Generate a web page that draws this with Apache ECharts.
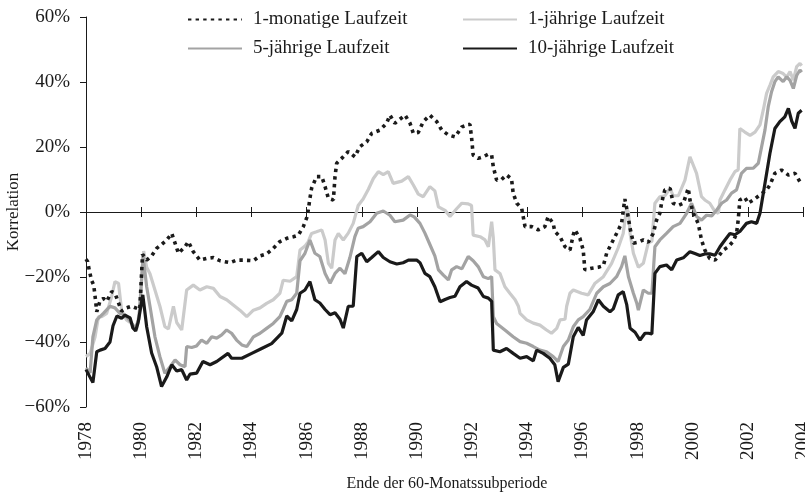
<!DOCTYPE html>
<html>
<head>
<meta charset="utf-8">
<script src="https://cdn.jsdelivr.net/npm/echarts@6/dist/echarts.min.js"></script>
<style>
  html, body { margin: 0; padding: 0; background: #ffffff; }
  #chart { width: 805px; height: 495px; }
</style>
</head>
<body>
<div id="chart"></div>
<script>
// Achse
var yearMin = 1978
var yearMax = 2004
var yearStep = 2
var yTicks = [-60, -40, -20, 0, 20, 40, 60]

// Korrelation in %, [Ende der Subperiode, Wert]
var monat1 = [
  [1978.00, -14.5], [1978.06, -15.3], [1978.12, -18], [1978.20, -21], [1978.28, -22.5], [1978.33, -26],
  [1978.39, -30.7], [1978.51, -27.3], [1978.63, -26.6], [1978.75, -27.5], [1978.93, -24.5], [1979.05, -25],
  [1979.29, -30.5], [1979.47, -29.5], [1979.65, -29], [1979.80, -29.5], [1979.95, -30], [1980.05, -13],
  [1980.20, -14.8], [1980.38, -13.5], [1980.56, -11.2], [1980.74, -10], [1980.93, -8.6], [1981.11, -6.6],
  [1981.23, -9.6], [1981.35, -12.7], [1981.59, -10.7], [1981.71, -9.1], [1981.89, -12.2], [1982.13, -14.8],
  [1982.38, -14.3], [1982.62, -14], [1982.86, -15], [1983.22, -15.6], [1983.46, -14.8], [1983.70, -14.8],
  [1984.07, -15], [1984.31, -13.5], [1984.55, -12.9], [1984.79, -11.2], [1985.03, -9.1], [1985.28, -8.1],
  [1985.52, -7.6], [1985.70, -7.1], [1985.88, -4.5], [1986.00, -1.9], [1986.06, 0.6], [1986.12, 4.2],
  [1986.18, 7.3], [1986.36, 10.9], [1986.55, 10.9], [1986.67, 7.8], [1986.79, 4.2], [1986.97, 3.7],
  [1987.03, 10.9], [1987.09, 15], [1987.27, 16.5], [1987.51, 18.6], [1987.75, 17], [1987.93, 20.1],
  [1988.18, 21.6], [1988.36, 24.2], [1988.66, 25.2], [1988.90, 27.3], [1989.02, 29.8], [1989.20, 27.3],
  [1989.57, 29.8], [1989.75, 27.3], [1989.87, 24.2], [1990.05, 24.5], [1990.23, 27.8], [1990.47, 29.8],
  [1990.72, 27.8], [1990.90, 25.2], [1991.14, 23.7], [1991.38, 23.1], [1991.63, 26.2], [1991.92, 27],
  [1991.98, 23.1], [1992.04, 17.5], [1992.22, 16.5], [1992.41, 17], [1992.59, 17.8], [1992.71, 17.5],
  [1992.77, 13.9], [1992.89, 9.8], [1993.07, 10], [1993.25, 11.4], [1993.43, 10.2], [1993.49, 5.8],
  [1993.62, 2.7], [1993.80, 1.1], [1993.92, -4.5], [1994.16, -4.5], [1994.40, -5.5], [1994.64, -4.5],
  [1994.76, -1.4], [1994.94, -3.5], [1995.00, -6], [1995.19, -7.6], [1995.37, -10.7], [1995.55, -11.7],
  [1995.67, -7], [1995.73, -5.5], [1995.91, -8.1], [1996.03, -11.7], [1996.09, -17.8], [1996.34, -17.3],
  [1996.58, -17], [1996.76, -16.5], [1996.88, -12.7], [1997.06, -9.6], [1997.24, -6.6], [1997.42, -3.5],
  [1997.54, 4], [1997.61, 1], [1997.73, -5], [1997.85, -9.6], [1998.03, -9.3], [1998.21, -8.6],
  [1998.39, -9.3], [1998.57, -6.6], [1998.69, -2.5], [1998.81, -0.4], [1998.87, 2.7], [1998.99, 6.8],
  [1999.18, 7.3], [1999.29, 2.7], [1999.48, 2], [1999.66, 2.7], [1999.84, 7.3], [1999.90, 3.7],
  [2000.02, -0.4], [2000.20, -3.5], [2000.32, -8.6], [2000.44, -11.7], [2000.62, -14.3], [2000.81, -14.8],
  [2000.93, -13.7], [2001.11, -11.7], [2001.29, -10.7], [2001.47, -9], [2001.59, -6.6], [2001.65, -2.5],
  [2001.71, 3.7], [2001.89, 4.5], [2002.01, 2.7], [2002.20, 3.7], [2002.40, 5], [2002.68, 6.8],
  [2002.80, 8.3], [2002.98, 11.9], [2003.22, 12.9], [2003.47, 11.4], [2003.71, 11.9], [2003.89, 9.3],
  [2003.95, 9]
]

var jahr1 = [
  [1978.00, -44.5], [1978.15, -43.5], [1978.33, -38.4], [1978.45, -32.2], [1978.57, -32.2], [1978.75, -31.2],
  [1978.93, -26], [1979.05, -21.4], [1979.18, -22], [1979.29, -30.2], [1979.47, -33.2], [1979.65, -34.3],
  [1979.83, -36.3], [1979.95, -30], [1980.09, -12], [1980.20, -17], [1980.32, -19], [1980.50, -24],
  [1980.68, -29], [1980.86, -35.3], [1980.99, -36], [1981.17, -29], [1981.29, -34], [1981.47, -36.3],
  [1981.65, -24], [1981.89, -22.5], [1982.13, -24], [1982.38, -23], [1982.62, -23.5], [1982.86, -26],
  [1983.10, -27], [1983.34, -28.6], [1983.58, -30.2], [1983.83, -32.2], [1984.07, -30.2], [1984.31, -29.5],
  [1984.55, -28.1], [1984.79, -27], [1985.03, -25], [1985.15, -21], [1985.40, -21.3], [1985.64, -19.9],
  [1985.76, -11.7], [1985.94, -10.5], [1986.06, -9.1], [1986.18, -6.6], [1986.36, -6.1], [1986.55, -5.5],
  [1986.67, -8.6], [1986.79, -15.8], [1986.91, -17.3], [1987.03, -8.6], [1987.15, -6.6], [1987.33, -8.6],
  [1987.51, -6.5], [1987.69, -3.5], [1987.87, 2], [1988.05, 4], [1988.24, 7], [1988.42, 10.3],
  [1988.60, 12.4], [1988.78, 11.5], [1988.96, 12.4], [1989.14, 8.8], [1989.45, 9.5], [1989.69, 10.9],
  [1989.87, 8.3], [1990.05, 5.5], [1990.23, 4.7], [1990.47, 7.8], [1990.65, 6.5], [1990.78, 1.6],
  [1991.02, 0.5], [1991.20, -1.4], [1991.44, 1], [1991.63, 2.7], [1991.86, 2.5], [1991.98, 2],
  [1992.04, -7.1], [1992.29, -7.6], [1992.47, -8.6], [1992.59, -10.7], [1992.71, -3], [1992.77, -8],
  [1992.83, -17.8], [1993.01, -18.9], [1993.19, -23], [1993.37, -25], [1993.56, -27], [1993.68, -29],
  [1993.74, -31.2], [1993.98, -33.2], [1994.22, -34.2], [1994.46, -34.8], [1994.70, -36.3], [1994.88, -37.3],
  [1995.07, -35.8], [1995.19, -33.2], [1995.37, -33], [1995.43, -29], [1995.55, -25], [1995.67, -24],
  [1995.97, -25], [1996.21, -25.5], [1996.46, -21.9], [1996.76, -19.9], [1997.06, -15.8], [1997.30, -11],
  [1997.48, -6.6], [1997.60, 1], [1997.67, 0], [1997.73, -6.6], [1997.85, -12.7], [1998.03, -17],
  [1998.21, -15.8], [1998.39, -9.5], [1998.52, -9], [1998.63, 2.7], [1998.81, 4.7], [1998.99, 5],
  [1999.18, 7.3], [1999.29, 5], [1999.48, 5], [1999.72, 9.8], [1999.90, 17], [1999.96, 16.5],
  [2000.14, 11.9], [2000.32, 4.7], [2000.44, 3.7], [2000.62, 2.7], [2000.81, 0.1], [2000.93, -0.4],
  [2000.99, 3.7], [2001.17, 6.8], [2001.35, 9.8], [2001.53, 12.4], [2001.65, 13], [2001.71, 25.7],
  [2001.89, 24.6], [2002.08, 23.6], [2002.26, 24.6], [2002.44, 26.8], [2002.56, 31.4], [2002.68, 36.5],
  [2002.80, 39], [2002.92, 41.6], [2003.10, 43.2], [2003.28, 42.6], [2003.41, 41.5], [2003.53, 43.2],
  [2003.65, 40.6], [2003.77, 44.7], [2003.89, 45.7], [2003.95, 45]
]

var jahr5 = [
  [1978.00, -48], [1978.15, -49.5], [1978.25, -38.4], [1978.39, -33.2], [1978.63, -31.2], [1978.87, -29],
  [1979.05, -29.5], [1979.23, -31.2], [1979.41, -31.6], [1979.60, -33.5], [1979.78, -35.8], [1979.92, -33],
  [1980.07, -13.5], [1980.20, -23], [1980.32, -29], [1980.50, -38.4], [1980.68, -44.5], [1980.86, -49.6],
  [1981.05, -47.6], [1981.23, -45.5], [1981.41, -47], [1981.59, -47.6], [1981.65, -41.4], [1981.83, -41.7],
  [1982.01, -41.2], [1982.19, -39.4], [1982.38, -40.4], [1982.56, -38.4], [1982.74, -38.8], [1982.92, -37.8],
  [1983.10, -36.3], [1983.28, -37.3], [1983.46, -39.4], [1983.65, -40.9], [1983.83, -41.4], [1984.07, -38.4],
  [1984.31, -37.3], [1984.55, -35.8], [1984.79, -34.3], [1985.03, -32.2], [1985.15, -30], [1985.28, -27.5],
  [1985.46, -27], [1985.64, -25], [1985.76, -15], [1985.94, -12.7], [1986.12, -8.6], [1986.30, -12.7],
  [1986.48, -13.7], [1986.67, -18.9], [1986.85, -21.9], [1987.03, -18.9], [1987.21, -17.3], [1987.39, -19],
  [1987.57, -14], [1987.75, -7.6], [1987.87, -5], [1988.05, -4.5], [1988.30, -3], [1988.54, -0.4],
  [1988.78, 0.3], [1989.02, -1], [1989.20, -3], [1989.50, -2.5], [1989.75, -0.9], [1989.90, -1.5],
  [1990.11, -3.5], [1990.29, -6.5], [1990.47, -10], [1990.65, -13.5], [1990.78, -17.8], [1990.96, -19.4],
  [1991.14, -20.9], [1991.26, -17.8], [1991.44, -16.8], [1991.63, -17.5], [1991.86, -13.7], [1992.04, -15],
  [1992.22, -16.8], [1992.41, -19.9], [1992.59, -20.5], [1992.71, -19.9], [1992.77, -32.2], [1992.89, -34.3],
  [1993.19, -36.3], [1993.49, -38.4], [1993.74, -39.9], [1993.98, -40.4], [1994.22, -41.4], [1994.46, -42.5],
  [1994.70, -43], [1994.94, -44.5], [1995.12, -46], [1995.31, -41.4], [1995.49, -39.4], [1995.67, -35.3],
  [1995.85, -33.2], [1996.03, -32.2], [1996.27, -30], [1996.52, -25], [1996.76, -23], [1997.00, -22],
  [1997.24, -19.9], [1997.42, -16.8], [1997.54, -13.5], [1997.67, -19.9], [1997.85, -25], [1997.97, -28],
  [1998.03, -30.2], [1998.21, -24], [1998.39, -25], [1998.52, -25], [1998.63, -10.7], [1998.81, -8.6],
  [1999.05, -6.6], [1999.29, -4.5], [1999.54, -3.5], [1999.78, -0.4], [1999.96, 2.7], [2000.14, -1.4],
  [2000.32, -2.5], [2000.50, -1], [2000.69, -1.2], [2000.87, 0.6], [2001.05, 2.7], [2001.23, 3.7],
  [2001.41, 5.8], [2001.59, 6.8], [2001.77, 11.9], [2001.95, 13.4], [2002.20, 13.5], [2002.38, 15],
  [2002.50, 20.1], [2002.62, 25.2], [2002.74, 32.4], [2002.86, 37], [2002.98, 40.1], [2003.10, 41.6],
  [2003.28, 40.1], [2003.41, 41.6], [2003.53, 40.5], [2003.65, 38], [2003.77, 42], [2003.89, 43.7],
  [2003.95, 43]
]

var jahr10 = [
  [1978.00, -48.5], [1978.25, -52.5], [1978.39, -43], [1978.51, -42.5], [1978.69, -42], [1978.87, -40],
  [1978.98, -35], [1979.12, -32], [1979.29, -32.7], [1979.41, -31.7], [1979.60, -32.6], [1979.70, -35.7],
  [1979.80, -36.6], [1979.89, -34], [1980.06, -25.5], [1980.20, -35.3], [1980.38, -43.4], [1980.56, -47.6],
  [1980.74, -53.7], [1980.93, -50.7], [1981.11, -47], [1981.29, -48.9], [1981.47, -48.5], [1981.65, -51.7],
  [1981.77, -49.9], [1982.01, -49.6], [1982.24, -46], [1982.50, -47], [1982.74, -46], [1983.15, -43.5],
  [1983.28, -45], [1983.65, -45], [1984.01, -43.5], [1984.37, -42], [1984.73, -40.5], [1985.10, -37.3],
  [1985.28, -32], [1985.46, -33.5], [1985.64, -30], [1985.76, -25], [1985.94, -24], [1986.12, -21.4],
  [1986.30, -27], [1986.48, -28], [1986.67, -30], [1986.85, -31.6], [1987.03, -31], [1987.21, -33],
  [1987.33, -35.7], [1987.51, -29], [1987.69, -29], [1987.82, -13.7], [1988.00, -12.7], [1988.18, -15.3],
  [1988.36, -14], [1988.60, -12.2], [1988.78, -14], [1989.02, -15.3], [1989.27, -16], [1989.50, -15.6],
  [1989.69, -14.8], [1989.99, -14.8], [1990.11, -15.6], [1990.29, -18.9], [1990.47, -19.9], [1990.65, -23],
  [1990.84, -27.6], [1991.02, -26.9], [1991.20, -26.3], [1991.38, -25.9], [1991.56, -23], [1991.80, -21.4],
  [1991.98, -22.5], [1992.22, -23.4], [1992.41, -26], [1992.59, -26.5], [1992.71, -27.5], [1992.77, -42.5],
  [1993.01, -43], [1993.25, -42], [1993.49, -43.5], [1993.74, -45], [1993.98, -44.5], [1994.22, -45.8],
  [1994.34, -42.5], [1994.58, -43.5], [1994.82, -45], [1995.00, -47], [1995.12, -52.2], [1995.31, -47.8],
  [1995.49, -46.8], [1995.67, -38.4], [1995.85, -35.5], [1996.03, -38], [1996.15, -33.2], [1996.39, -30.7],
  [1996.58, -27], [1996.76, -29], [1997.00, -30.7], [1997.12, -29.8], [1997.30, -25.5], [1997.48, -24.5],
  [1997.61, -28.6], [1997.73, -35.8], [1997.91, -37], [1998.09, -39.4], [1998.27, -37.3], [1998.39, -37.3],
  [1998.52, -37.5], [1998.63, -18.9], [1998.81, -16.8], [1999.05, -16.3], [1999.24, -17.8], [1999.42, -14.8],
  [1999.66, -14.1], [1999.90, -12.2], [2000.08, -12.8], [2000.26, -13.4], [2000.44, -12.9], [2000.62, -12.9],
  [2000.81, -13.3], [2000.99, -10.7], [2001.17, -8.6], [2001.35, -6.6], [2001.53, -7], [2001.71, -6],
  [2001.95, -3.5], [2002.13, -3], [2002.32, -3.5], [2002.44, -0.4], [2002.62, 8.8], [2002.80, 18],
  [2002.98, 25.7], [2003.16, 27.8], [2003.34, 29.3], [2003.47, 31.9], [2003.59, 28], [2003.71, 25.7],
  [2003.83, 30.4], [2003.95, 31.3]
]

var schrift = "'Liberation Serif', 'Times New Roman', serif"
var schwarz = '#1a1a1a'

var chart = echarts.init(document.getElementById('chart'))

var legendBase = {
  itemWidth: 54,
  itemHeight: 12,
  padding: 0,
  selectedMode: false,
  itemStyle: { opacity: 0 },
  textStyle: { fontFamily: schrift, fontSize: 19, color: schwarz, padding: [0, 0, 0, 6] }
}

function xAchse (extra) {
  return Object.assign({
    type: 'value',
    min: yearMin,
    max: yearMax,
    interval: yearStep,
    splitLine: { show: false }
  }, extra)
}

function yAchse (extra) {
  return Object.assign({
    type: 'value',
    min: yTicks[0],
    max: yTicks[yTicks.length - 1],
    interval: 20,
    splitLine: { show: false }
  }, extra)
}

chart.setOption({
  animation: false,
  backgroundColor: '#ffffff',
  grid: { left: 86, right: 2, top: 17, bottom: 88, containLabel: false, outerBoundsMode: 'none' },
  legend: [
    Object.assign({ data: ['1-monatige Laufzeit'], left: 187, top: 10 }, legendBase),
    Object.assign({ data: ['1-jährige Laufzeit'], left: 462, top: 10 }, legendBase),
    Object.assign({ data: ['5-jährige Laufzeit'], left: 187, top: 39 }, legendBase),
    Object.assign({ data: ['10-jährige Laufzeit'], left: 462, top: 39 }, legendBase)
  ],
  // Achsentitel
  graphic: [
    {
      type: 'text',
      x: 447,
      y: 484,
      style: {
        text: 'Ende der 60-Monatssubperiode',
        font: '16px ' + schrift,
        fill: schwarz,
        align: 'center',
        verticalAlign: 'middle'
      }
    },
    {
      type: 'text',
      x: 14,
      y: 212,
      rotation: Math.PI / 2,
      style: {
        text: 'Korrelation',
        font: '17px ' + schrift,
        fill: schwarz,
        align: 'center',
        verticalAlign: 'middle'
      }
    }
  ],
  xAxis: [
    // Beschriftung unten
    xAchse({
      position: 'bottom',
      axisLine: { show: false, onZero: false },
      axisTick: { show: false },
      axisLabel: {
        rotate: 90,
        margin: 15,
        fontFamily: schrift,
        fontSize: 19,
        color: schwarz,
        formatter: function (v) { return String(v) }
      }
    }),
    // Nulllinie mit Strichen nach unten
    xAchse({
      position: 'bottom',
      axisLine: { show: true, onZero: true, onZeroAxisIndex: 0, lineStyle: { color: schwarz, width: 1 } },
      axisTick: { show: true, inside: false, length: 5, lineStyle: { color: schwarz, width: 1 } },
      axisLabel: { show: false }
    }),
    // Striche nach oben
    xAchse({
      position: 'bottom',
      axisLine: { show: true, onZero: true, onZeroAxisIndex: 1, lineStyle: { color: schwarz, width: 1 } },
      axisTick: { show: true, inside: true, length: 5, lineStyle: { color: schwarz, width: 1 } },
      axisLabel: { show: false }
    })
  ],
  yAxis: [
    yAchse({
      axisLine: { show: true, onZero: false, lineStyle: { color: schwarz, width: 1 } },
      axisTick: { show: true, inside: false, length: 6, lineStyle: { color: schwarz } },
      axisLabel: {
        margin: 16,
        fontFamily: schrift,
        fontSize: 19,
        color: schwarz,
        formatter: function (v) { return (v < 0 ? '\u2212' + (-v) : v) + '%' }
      }
    }),
    // unsichtbare Hilfsachse fuer die zweite Nulllinie
    yAchse({
      position: 'left',
      axisLine: { show: false, onZero: false },
      axisTick: { show: false },
      axisLabel: { show: false }
    })
  ],
  series: [
    {
      name: '1-monatige Laufzeit',
      type: 'line',
      data: monat1,
      symbol: 'none',
      color: schwarz,
      z: 5,
      lineStyle: { color: schwarz, width: 3.6, type: [3.4, 4.2], cap: 'butt' }
    },
    {
      name: '1-jährige Laufzeit',
      type: 'line',
      data: jahr1,
      symbol: 'none',
      color: '#cbcbcb',
      z: 2,
      lineStyle: { color: '#cbcbcb', width: 3.2 }
    },
    {
      name: '5-jährige Laufzeit',
      type: 'line',
      data: jahr5,
      symbol: 'none',
      color: '#a3a3a3',
      z: 3,
      lineStyle: { color: '#a3a3a3', width: 3.2 }
    },
    {
      name: '10-jährige Laufzeit',
      type: 'line',
      data: jahr10,
      symbol: 'none',
      color: schwarz,
      z: 4,
      lineStyle: { color: schwarz, width: 3.2 }
    }
  ]
})
</script>
</body>
</html>
